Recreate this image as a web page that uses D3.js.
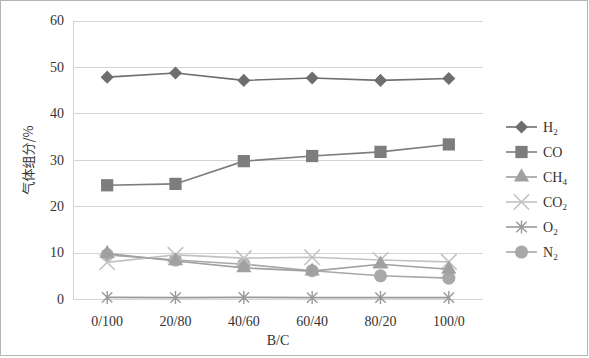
<!DOCTYPE html>
<html>
<head>
<meta charset="utf-8">
<script src="https://cdn.jsdelivr.net/npm/d3@7"></script>
<style>
  body { margin: 0; background: #fff; }
  svg { display: block; }
</style>
</head>
<body>
<div id="chart"></div>
<script>
// B/C ratios on the x axis
const categories = ['0/100', '20/80', '40/60', '60/40', '80/20', '100/0'];

// gas composition, %
const h2  = [47.8, 48.7, 47.1, 47.6, 47.1, 47.5];
const co  = [24.5, 24.8, 29.7, 30.8, 31.7, 33.3];
const ch4 = [9.8, 8.2, 6.7, 6.0, 7.5, 6.4];
const co2 = [7.9, 9.5, 8.8, 9.0, 8.4, 8.0];
const o2  = [0.35, 0.3, 0.35, 0.3, 0.3, 0.3];
const n2  = [9.5, 8.4, 7.5, 6.1, 5.0, 4.5];

const yTicks = [0, 10, 20, 30, 40, 50, 60];

const series = [
    { name: 'H', sub: '2', values: h2, color: '#6e6e6e', marker: 'diamond' },
    { name: 'CO', sub: '', values: co, color: '#7d7d7d', marker: 'square' },
    { name: 'CH', sub: '4', values: ch4, color: '#a0a0a0', marker: 'triangle' },
    { name: 'CO', sub: '2', values: co2, color: '#c2c2c2', marker: 'x' },
    { name: 'O', sub: '2', values: o2, color: '#999999', marker: 'star' },
    { name: 'N', sub: '2', values: n2, color: '#a8a8a8', marker: 'circle' },
];

const width = 589, height = 358;
const margin = { top: 20.5, right: 106, bottom: 59, left: 73 };
const serif = '"Liberation Serif", "Times New Roman", serif';
const textColor = '#333';

const svg = d3.select('#chart').append('svg')
    .attr('width', width)
    .attr('height', height);

// outer frame
svg.append('rect')
    .attr('x', 0.5).attr('y', 0.5)
    .attr('width', width - 2).attr('height', height - 3)
    .attr('fill', 'none')
    .attr('stroke', '#b5b5b5');

const x = d3.scaleBand()
    .domain(categories)
    .range([margin.left, width - margin.right]);

const y = d3.scaleLinear()
    .domain([0, 60])
    .range([height - margin.bottom, margin.top]);

// gridlines
svg.append('g')
    .selectAll('line')
    .data(yTicks)
    .join('line')
    .attr('x1', margin.left)
    .attr('x2', width - margin.right)
    .attr('y1', d => Math.round(y(d)) + 0.5)
    .attr('y2', d => Math.round(y(d)) + 0.5)
    .attr('stroke', '#d4d4d4');

// y axis line
svg.append('line')
    .attr('x1', margin.left + 0.5).attr('x2', margin.left + 0.5)
    .attr('y1', y(60)).attr('y2', y(0))
    .attr('stroke', '#d4d4d4');

// y tick labels
svg.append('g')
    .selectAll('text')
    .data(yTicks)
    .join('text')
    .attr('x', margin.left - 9)
    .attr('y', d => y(d))
    .attr('dy', '0.35em')
    .attr('text-anchor', 'end')
    .style('font', `14px ${serif}`)
    .attr('fill', textColor)
    .text(d => d);

// x tick labels
svg.append('g')
    .selectAll('text')
    .data(categories)
    .join('text')
    .attr('x', d => x(d) + x.bandwidth() / 2)
    .attr('y', y(0) + 27)
    .attr('text-anchor', 'middle')
    .style('font', `14px ${serif}`)
    .attr('fill', textColor)
    .text(d => d);

// axis titles
svg.append('text')
    .attr('x', (margin.left + width - margin.right) / 2)
    .attr('y', 345)
    .attr('text-anchor', 'middle')
    .style('font', `14px ${serif}`)
    .attr('fill', textColor)
    .text('B/C');

svg.append('text')
    .attr('transform', 'translate(33,160) rotate(-90)')
    .attr('text-anchor', 'middle')
    .style('font', '13px "Noto Sans CJK SC", sans-serif')
    .attr('fill', textColor)
    .text('气体组分/%');

const symbols = {
    square: d3.symbol().type(d3.symbolSquare).size(150),
    triangle: d3.symbol().type(d3.symbolTriangle).size(100),
    circle: d3.symbol().type(d3.symbolCircle).size(135),
    x: d3.symbol().type(d3.symbolTimes).size(110),
};

function drawMarker(g, s) {
    if (s.marker === 'diamond') {
        // square turned 45 degrees
        g.append('path').attr('d', d3.symbol().type(d3.symbolSquare).size(85)())
            .attr('fill', s.color)
            .attr('transform', 'rotate(45)');
    } else if (s.marker === 'x') {
        g.append('path').attr('d', symbols.x())
            .attr('fill', 'none').attr('stroke', s.color).attr('stroke-width', 1.3)
            .attr('transform', 'scale(1.2)');
    } else if (s.marker === 'star') {
        const r = 6.5;
        const a = r * 0.8;
        g.append('path')
            .attr('d', `M0,${-r}L0,${r}M${-a},${-a}L${a},${a}M${-a},${a}L${a},${-a}`)
            .attr('fill', 'none').attr('stroke', s.color).attr('stroke-width', 1.4);
    } else {
        g.append('path').attr('d', symbols[s.marker]())
            .attr('fill', s.color);
    }
}

const line = d3.line()
    .x((d, i) => x(categories[i]) + x.bandwidth() / 2)
    .y(d => y(d));

// draw back to front so H2 ends on top
series.slice().reverse().forEach(s => {
    const g = svg.append('g');
    g.append('path')
        .datum(s.values)
        .attr('d', line)
        .attr('fill', 'none')
        .attr('stroke', s.color)
        .attr('stroke-width', 1.6);

    g.selectAll('g.pt')
        .data(s.values)
        .join('g')
        .attr('class', 'pt')
        .attr('transform', (d, i) => `translate(${x(categories[i]) + x.bandwidth() / 2},${y(d)})`)
        .each(function () { drawMarker(d3.select(this), s); });
});

// legend
const legend = svg.append('g');
series.forEach((s, i) => {
    const ly = 127 + i * 25;
    const g = legend.append('g').attr('transform', `translate(506,${ly})`);
    g.append('line')
        .attr('x1', 0).attr('x2', 31)
        .attr('stroke', s.color).attr('stroke-width', 1.6);
    drawMarker(g.append('g').attr('transform', 'translate(15.5,0)'), s);
    const t = g.append('text')
        .attr('x', 37)
        .attr('dy', '0.35em')
        .style('font', `14px ${serif}`)
        .attr('fill', textColor)
        .text(s.name);
    if (s.sub) {
        t.append('tspan')
            .attr('dy', '0.3em')
            .style('font-size', '9px')
            .text(s.sub);
    }
});
</script>
</body>
</html>
